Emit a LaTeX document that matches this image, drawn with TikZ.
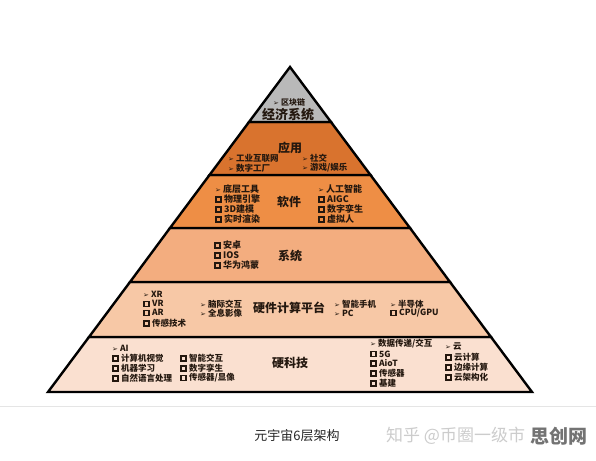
\documentclass[tikz,border=0pt]{standalone}
\usepackage{fontspec}
\setmainfont{Noto Sans CJK SC}
\newfontfamily\dv{DejaVu Sans}
\definecolor{cTop}{HTML}{B9B9B9}
\definecolor{cApp}{HTML}{D9732E}
\definecolor{cSoft}{HTML}{EE8E45}
\definecolor{cSys}{HTML}{F3AD7F}
\definecolor{cHw}{HTML}{F7C8A6}
\definecolor{cHard}{HTML}{FAE0D0}
\definecolor{txt}{HTML}{24180F}
\newcommand\ar{{\dv\bfseries\fontsize{7}{7}\selectfont ➢}\hspace{2pt}}
\newcommand\sq{{\setlength\fboxsep{0.8pt}\setlength\fboxrule{1.4pt}\raisebox{1.8pt}{\fbox{\rule{0pt}{2pt}\hspace{2pt}}}}\hspace{2.5pt}}
\begin{document}
\begin{tikzpicture}[x=1pt,y=-1pt,
  band/.style={draw=black, line width=2.4pt, line join=miter},
  ttl/.style={inner sep=0pt, font=\fontsize{12}{12}\selectfont\bfseries, text=txt},
  it/.style={anchor=west, inner sep=0pt, font=\fontsize{9}{10}\selectfont\bfseries, text=txt},
  its/.style={it, font=\fontsize{8.5}{10}\selectfont\bfseries}]
\useasboundingbox (0,0) rectangle (596,460);
\fill[white] (0,0) rectangle (596,460);
% bands (apex 290,67; half width = 0.745*(y-67))
\draw[band, fill=cHard] (89,337) -- (491,337) -- (532,392) -- (48,392) -- cycle;
\draw[band, fill=cHw] (130,282) -- (450,282) -- (491,337) -- (89,337) -- cycle;
\draw[band, fill=cSys] (170,228) -- (410,228) -- (450,282) -- (130,282) -- cycle;
\draw[band, fill=cSoft] (209.5,175) -- (370.5,175) -- (410,228) -- (170,228) -- cycle;
\draw[band, fill=cApp] (249,122) -- (331,122) -- (370.5,175) -- (209.5,175) -- cycle;
\draw[band, fill=cTop] (290,67) -- (331,122) -- (249,122) -- cycle;
% separator line
\draw[line width=0.8pt, draw=black!10] (0,406) -- (596,406);
% top
\node[it, font=\fontsize{8}{8}\selectfont\bfseries] (qkl) at (273,102) {\ar 区块链};
\node[ttl, font=\fontsize{13}{13}\selectfont\bfseries] (jj) at (288,115) {经济系统};
% 应用
\node[ttl] (yy) at (290,148) {应用};
\node[its] (a1) at (228,158) {\ar 工业互联网};
\node[its] (a2) at (228,168) {\ar 数字工厂};
\node[its] (a3) at (302,158) {\ar 社交};
\node[its] (a4) at (302,168) {\ar 游戏/娱乐};
% 软件
\node[ttl] (rj) at (289,202) {软件};
\node[it] (s1) at (215,189) {\ar 底层工具};
\node[it] (s2) at (215,199) {\sq 物理引擎};
\node[it] (s3) at (215,209) {\sq 3D建模};
\node[it] (s4) at (215,219) {\sq 实时渲染};
\node[it] (s5) at (318,189) {\ar 人工智能};
\node[it] (s6) at (318,199) {\sq AIGC};
\node[it] (s7) at (318,209) {\sq 数字孪生};
\node[it] (s8) at (318,219) {\sq 虚拟人};
% 系统
\node[ttl] (xt) at (290,256) {系统};
\node[it] (x1) at (214,245) {\sq 安卓};
\node[it] (x2) at (214,255) {\sq IOS};
\node[it] (x3) at (214,265) {\sq 华为鸿蒙};
% 硬件计算平台
\node[ttl] (yj) at (289,308) {硬件计算平台};
\node[its] (h1) at (143,294) {\ar XR};
\node[its] (h2) at (143,304) {\sq VR};
\node[its] (h3) at (143,313) {\sq AR};
\node[its] (h4) at (143,323) {\sq 传感技术};
\node[its] (h5) at (200,304) {\ar 脑际交互};
\node[its] (h6) at (200,313) {\ar 全息影像};
\node[its] (h7) at (334,304) {\ar 智能手机};
\node[its] (h8) at (334,313) {\ar PC};
\node[its] (h9) at (390,304) {\ar 半导体};
\node[its] (h10) at (390,313) {\sq CPU/GPU};
% 硬科技
\node[ttl] (ykj) at (290,363) {硬科技};
\node[its] (k1) at (112,348) {\ar AI};
\node[its] (k2) at (112,358) {\sq 计算机视觉};
\node[its] (k3) at (112,368) {\sq 机器学习};
\node[its] (k4) at (112,378) {\sq 自然语言处理};
\node[its] (k5) at (180,358) {\sq 智能交互};
\node[its] (k6) at (180,368) {\sq 数字孪生};
\node[its] (k7) at (180,378) {\sq 传感器/显像};
\node[its] (k8) at (370,344) {\ar 数据传递/交互};
\node[its] (k9) at (370,354) {\sq 5G};
\node[its] (k10) at (370,363) {\sq AioT};
\node[its] (k11) at (370,373) {\sq 传感器};
\node[its] (k12) at (370,383) {\sq 基建};
\node[its] (k13) at (445,347) {\ar 云};
\node[its] (k14) at (445,357) {\sq 云计算};
\node[its] (k15) at (445,367) {\sq 边缘计算};
\node[its] (k16) at (445,377) {\sq 云架构化};
% caption and watermark
\node[inner sep=0pt, font=\fontsize{13}{13}\selectfont, text=black!85] (cap) at (297,436) {元宇宙6层架构};
\node[anchor=west, inner sep=0pt, font=\fontsize{17}{17}\selectfont, text=black!20] (wm1) at (386,436) {知乎 @币圈一级市};
\node[anchor=west, inner sep=0pt, font=\fontsize{19}{19}\selectfont\bfseries, text=black!55] (wm2) at (530,436) {思创网};
\end{tikzpicture}
\end{document}
